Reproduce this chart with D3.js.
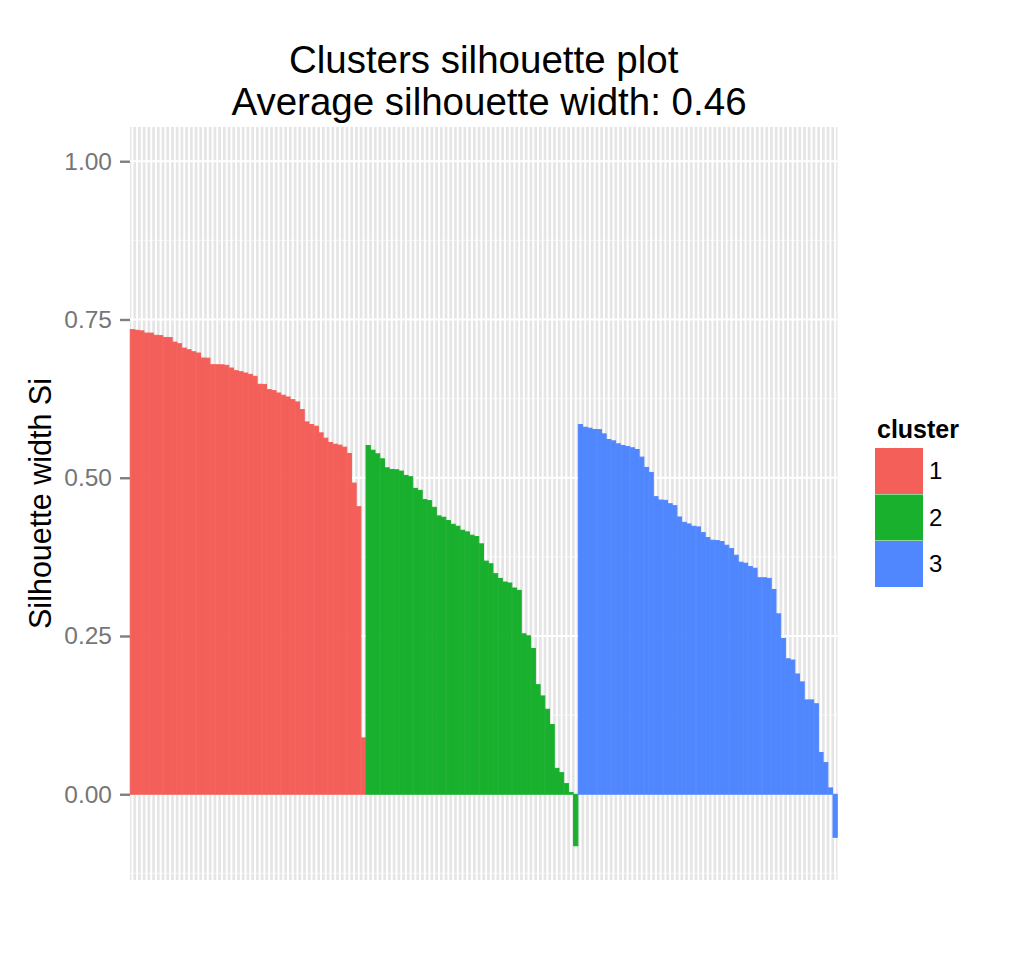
<!DOCTYPE html>
<html lang="en">
<head>
    <meta charset="UTF-8">
    <title>Clusters silhouette plot</title>
    <script src="https://d3js.org/d3.v7.min.js"></script>
    <style>
        body{
            margin: 0;
            background-color: #ffffff;
        }
        text{
            font-family: "Liberation Sans", Arial, sans-serif;
        }
        .tick_label{
            fill: #767676;
            font-size: 24.5px;
        }
        .title{
            font-size: 38.5px;
            fill: #000000;
        }
    </style>
</head>
<body>
<svg id="canvas" width="1036" height="960"></svg>
<script>
    let cluster_names = ["1", "2", "3"]
    let cluster_colors = ["#f45f5a", "#19b02d", "#5087ff"]
    let sil_cluster1 = [0.734, 0.733, 0.732, 0.7285, 0.7285, 0.725, 0.7245, 0.7216, 0.7214, 0.7143,
        0.7117, 0.7048, 0.7022, 0.6991, 0.697, 0.6891, 0.6889, 0.6786, 0.6785, 0.6784,
        0.6775, 0.6733, 0.6691, 0.6675, 0.6654, 0.6633, 0.6602, 0.6476, 0.6474, 0.6392,
        0.6376, 0.6339, 0.6303, 0.6276, 0.6234, 0.6197, 0.6077, 0.5882, 0.584, 0.5814,
        0.5709, 0.5625, 0.5557, 0.553, 0.5515, 0.5483, 0.5383, 0.4916, 0.4543, 0.089]
    let sil_cluster2 = [0.5509, 0.5435, 0.5378, 0.5299, 0.5157, 0.5131, 0.5126, 0.5105, 0.5037, 0.5016,
        0.4832, 0.4801, 0.4654, 0.4638, 0.4533, 0.4397, 0.4376, 0.4323, 0.4265, 0.4234,
        0.4171, 0.4145, 0.4092, 0.4071, 0.3956, 0.3683, 0.3641, 0.3484, 0.341, 0.3353,
        0.3337, 0.3258, 0.3221, 0.2534, 0.2503, 0.2303, 0.1731, 0.1553, 0.1343, 0.1102,
        0.0409, 0.0341, 0.0168, 0.0026, -0.0814]
    let sil_cluster3 = [0.584, 0.5798, 0.5783, 0.5762, 0.576, 0.5693, 0.5604, 0.5583, 0.5536, 0.5509,
        0.5494, 0.5473, 0.5446, 0.5326, 0.5163, 0.5084, 0.4701, 0.4648, 0.4643, 0.459,
        0.4559, 0.438, 0.4296, 0.427, 0.4233, 0.4223, 0.4133, 0.4055, 0.4013, 0.4007,
        0.3992, 0.3934, 0.3881, 0.3776, 0.3666, 0.365, 0.3597, 0.357, 0.342, 0.342,
        0.341, 0.3235, 0.285, 0.246, 0.214, 0.212, 0.19, 0.1775, 0.149, 0.149,
        0.143, 0.066, 0.05, 0.01, -0.068]
    let y_ticks = [0, 0.25, 0.5, 0.75, 1]
    let y_tick_labels = ["0.00", "0.25", "0.50", "0.75", "1.00"]
    let title_lines = ["Clusters silhouette plot ", "Average silhouette width: 0.46"]

    let sil_data = []
    ;[sil_cluster1, sil_cluster2, sil_cluster3].forEach(function (values, c) {
        values.forEach(function (v) {
            sil_data.push({id: sil_data.length, cluster: cluster_names[c], sil_width: v})
        })
    })

    let panel = {left: 130, right: 837.5, top: 127, bottom: 880}
    let svg = d3.select('#canvas')

    let xScale = d3.scaleBand()
        .domain(sil_data.map(function (d) {return d.id}))
        .range([panel.left, panel.right])
        .padding(0)
    let ymin = d3.min(sil_data, function (d) {return d.sil_width})
    let ymax = 1
    let pad = (ymax - ymin) * 0.05
    let yScale = d3.scaleLinear().domain([ymin - pad, ymax + pad]).range([panel.bottom, panel.top])
    let colorScale = d3.scaleOrdinal().domain(cluster_names).range(cluster_colors)

    // panel + grid
    svg.append('rect')
        .attr('x', panel.left).attr('y', panel.top)
        .attr('width', panel.right - panel.left).attr('height', panel.bottom - panel.top)
        .attr('fill', '#e5e5e5')
    let minor_ticks = y_ticks.map(function (d) {return d - 0.125})
    minor_ticks.push(1.125)
    minor_ticks = minor_ticks.filter(function (d) {return yScale(d) > panel.top && yScale(d) < panel.bottom})
    svg.append('g').selectAll('line')
        .data(minor_ticks)
        .enter()
        .append('line')
        .attr('x1', panel.left).attr('x2', panel.right)
        .attr('y1', function (d) {return yScale(d)}).attr('y2', function (d) {return yScale(d)})
        .attr('stroke', '#f2f2f2').attr('stroke-width', 1.1)
    svg.append('g').selectAll('line')
        .data(sil_data)
        .enter()
        .append('line')
        .attr('x1', function (d) {return xScale(d.id) + xScale.bandwidth() / 2})
        .attr('x2', function (d) {return xScale(d.id) + xScale.bandwidth() / 2})
        .attr('y1', panel.top).attr('y2', panel.bottom)
        .attr('stroke', '#ffffff').attr('stroke-width', 2)
    svg.append('g').selectAll('line')
        .data(y_ticks)
        .enter()
        .append('line')
        .attr('x1', panel.left).attr('x2', panel.right)
        .attr('y1', function (d) {return yScale(d)}).attr('y2', function (d) {return yScale(d)})
        .attr('stroke', '#ffffff').attr('stroke-width', 2)

    // bars
    svg.append('g').selectAll('rect')
        .data(sil_data)
        .enter()
        .append('rect')
        .attr('x', function (d) {return xScale(d.id) + xScale.bandwidth() * 0.05})
        .attr('width', xScale.bandwidth() * 0.9)
        .attr('y', function (d) {return yScale(Math.max(0, d.sil_width))})
        .attr('height', function (d) {return Math.abs(yScale(d.sil_width) - yScale(0))})
        .attr('fill', function (d) {return colorScale(d.cluster)})
        .attr('stroke', function (d) {return colorScale(d.cluster)})
        .attr('stroke-width', 1)

    // y axis
    let y_axis = d3.axisLeft(yScale)
        .tickValues(y_ticks)
        .tickSize(10)
        .tickPadding(8)
        .tickFormat(function (d, i) {return y_tick_labels[i]})
    let axis_g = svg.append('g')
        .attr('transform', `translate(${panel.left},0)`)
        .call(y_axis)
    axis_g.select('.domain').remove()
    axis_g.selectAll('.tick line').attr('stroke', '#7f7f7f').attr('stroke-width', 2.4)
    axis_g.selectAll('.tick text').attr('class', 'tick_label').attr('font-size', null).attr('font-family', null)

    svg.append('text')
        .attr('transform', `translate(51,${(panel.top + panel.bottom) / 2}) rotate(-90)`)
        .attr('text-anchor', 'middle')
        .style('font-size', '30.5px')
        .text('Silhouette width Si')

    // title
    svg.append('g').selectAll('text')
        .data(title_lines)
        .enter()
        .append('text')
        .attr('class', 'title')
        .attr('x', 489)
        .attr('y', function (d, i) {return 73 + i * 42})
        .attr('text-anchor', 'middle')
        .attr('xml:space', 'preserve')
        .style('white-space', 'pre')
        .text(function (d) {return d})

    // legend
    let legend = svg.append('g').attr('transform', 'translate(875,448)')
    legend.append('text')
        .attr('x', 2).attr('y', -10)
        .style('font-size', '25px').style('font-weight', 'bold')
        .text('cluster')
    let keys = legend.selectAll('g.key')
        .data(cluster_names)
        .enter()
        .append('g')
        .attr('class', 'key')
        .attr('transform', function (d, i) {return `translate(0,${i * 46.5})`})
    keys.append('rect')
        .attr('width', 48).attr('height', 46)
        .attr('fill', function (d) {return colorScale(d)})
    keys.append('text')
        .attr('x', 54).attr('y', 23)
        .attr('dy', '0.35em')
        .style('font-size', '24px')
        .text(function (d) {return d})
</script>
</body>
</html>
